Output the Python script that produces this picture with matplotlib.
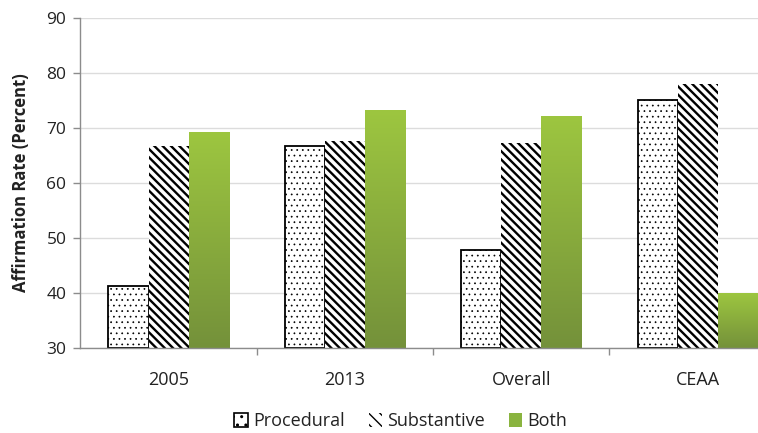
import numpy as np
import matplotlib
matplotlib.use("Agg")
import matplotlib.pyplot as plt
from matplotlib.colors import LinearSegmentedColormap
from matplotlib.patches import Patch

categories = ["2005", "2013", "Overall", "CEAA"]
procedural = [41.2, 66.8, 47.8, 75.1]
substantive = [66.7, 67.6, 67.2, 78.0]
both = [69.3, 73.2, 72.2, 39.9]
series_names = ["Procedural", "Substantive", "Both"]
y_ticks = [30, 40, 50, 60, 70, 80, 90]

plt.rcParams["font.family"] = ["Open Sans", "DejaVu Sans"]
plt.rcParams["hatch.color"] = "black"

fig = plt.figure(figsize=(7.58, 4.33), dpi=100)
ax = fig.add_axes([0.106, 0.197, 0.894, 0.761])

x = np.arange(len(categories))
w = 0.227
base = 30

with plt.rc_context({"hatch.linewidth": 0.5}):
    b_proc = ax.bar(x - w, np.array(procedural) - base, w, bottom=base,
                    facecolor="white", edgecolor="black", linewidth=1.3,
                    hatch="...", zorder=3)
with plt.rc_context({"hatch.linewidth": 1.7}):
    b_sub = ax.bar(x, np.array(substantive) - base, w, bottom=base,
                   facecolor="white", edgecolor="black", linewidth=0,
                   hatch="\\\\\\\\", zorder=3)
b_both = ax.bar(x + w, np.array(both) - base, w, bottom=base,
                facecolor="#8AAE47", edgecolor="none", zorder=3)

# vertical gradient inside each green bar
green_cmap = LinearSegmentedColormap.from_list("olive", ["#74913A", "#9DC640"])
grad = np.linspace(0, 1, 256).reshape(-1, 1)
for rect in b_both:
    x0, y0 = rect.get_x(), rect.get_y()
    im = ax.imshow(grad, cmap=green_cmap, origin="lower", aspect="auto",
                   extent=(x0, x0 + rect.get_width(), y0, y0 + rect.get_height()),
                   zorder=3.5, interpolation="bilinear")
    im.set_clip_path(rect)

ax.set_xlim(-0.5, 3.342)
ax.set_ylim(30, 90)
ax.set_yticks(y_ticks)
ax.set_xticks(x)
ax.set_xticklabels(categories)
ax.set_xticks([0.5, 1.5, 2.5], minor=True)

axis_gray = "#8C8C8C"
text_color = "#222222"
ax.tick_params(axis="x", which="major", length=0, pad=17, labelsize=13, colors=text_color)
ax.tick_params(axis="x", which="minor", length=5, width=1, color=axis_gray)
ax.tick_params(axis="y", length=5, width=1, color=axis_gray, labelsize=12.5,
               labelcolor=text_color, pad=5)

for side in ("top", "right"):
    ax.spines[side].set_visible(False)
for side in ("left", "bottom"):
    ax.spines[side].set_color(axis_gray)
    ax.spines[side].set_linewidth(1)
    ax.spines[side].set_zorder(4)

ax.yaxis.grid(True, color="#DCDCDC", linewidth=1)
ax.set_axisbelow(True)

ax.set_ylabel("Affirmation Rate (Percent)", fontsize=12, fontweight="bold",
              color=text_color, labelpad=12)

handles = [
    Patch(facecolor="white", edgecolor="black", linewidth=1.2, hatch=".."),
    Patch(facecolor="white", edgecolor="black", linewidth=0, hatch="\\\\\\"),
    Patch(facecolor="#8AB43F", edgecolor="none"),
]
fig.legend(handles, series_names, loc="center", bbox_to_anchor=(0.529, 0.027),
           ncol=3, frameon=False, fontsize=13, handlelength=0.75,
           handleheight=0.75, handletextpad=0.3, columnspacing=1.3,
           labelcolor=text_color)

fig.savefig("out.png", dpi=100)
